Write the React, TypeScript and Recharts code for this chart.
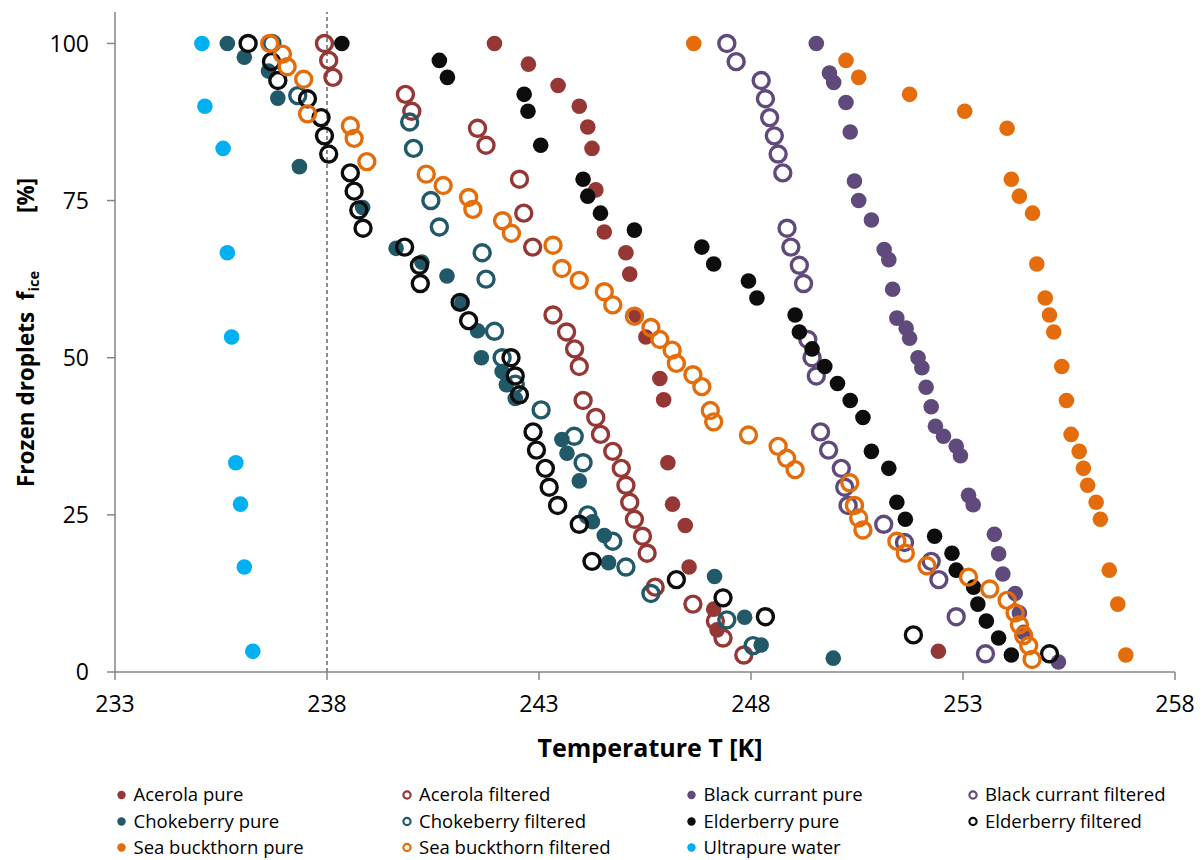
import React from "react";
import {
  ScatterChart,
  Scatter,
  XAxis,
  YAxis,
  ReferenceLine,
} from "recharts";

// Freezing curves: [temperature T in K, frozen fraction f_ice in %]
const acerolaPure: [number, number][] = [
  [241.95, 100], [242.75, 96.7], [243.45, 93.3], [243.95, 90.0], [244.15, 86.7],
  [244.25, 83.3], [244.34, 76.7], [244.54, 70.0], [245.05, 66.7], [245.14, 63.3],
  [245.29, 56.7], [245.52, 53.3], [245.85, 46.7], [245.94, 43.3], [246.04, 33.3],
  [246.15, 26.7], [246.45, 23.3], [246.54, 16.7], [247.12, 10.0], [247.2, 6.7],
  [252.42, 3.3],
];

const acerolaFiltered: [number, number][] = [
  [237.94, 100], [238.04, 97.3], [238.14, 94.6], [239.85, 91.9], [240.0, 89.2],
  [241.55, 86.5], [241.75, 83.8], [242.54, 78.4], [242.64, 73.0], [242.85, 67.6],
  [243.33, 56.8], [243.65, 54.1], [243.84, 51.4], [243.95, 48.6], [244.04, 43.2],
  [244.34, 40.5], [244.45, 37.8], [244.74, 35.1], [244.94, 32.4], [245.05, 29.7],
  [245.14, 27.0], [245.25, 24.3], [245.44, 21.6], [245.55, 18.9], [245.74, 13.5],
  [246.63, 10.8], [247.16, 8.1], [247.34, 5.4], [247.83, 2.7],
];

const blackCurrantPure: [number, number][] = [
  [249.54, 100], [249.85, 95.3], [249.95, 93.8], [250.24, 90.6], [250.34, 85.9],
  [250.44, 78.1], [250.54, 75.0], [250.84, 71.9], [251.14, 67.2], [251.25, 65.6],
  [251.34, 60.9], [251.44, 56.3], [251.66, 54.7], [251.74, 53.1], [251.94, 50.0],
  [252.03, 48.4], [252.13, 45.3], [252.25, 42.2], [252.35, 39.1], [252.54, 37.5],
  [252.84, 35.9], [252.94, 34.4], [253.13, 28.1], [253.24, 26.6], [253.74, 21.9],
  [253.84, 18.8], [253.94, 15.6], [254.23, 12.5], [254.33, 9.4], [254.43, 6.3],
  [255.25, 1.6],
];

const blackCurrantFiltered: [number, number][] = [
  [247.43, 100], [247.65, 97.1], [248.24, 94.1], [248.34, 91.2], [248.44, 88.2],
  [248.55, 85.3], [248.64, 82.4], [248.75, 79.4], [248.85, 70.6], [248.94, 67.6],
  [249.14, 64.7], [249.24, 61.8], [249.34, 52.9], [249.44, 50.0], [249.54, 47.1],
  [249.64, 38.2], [249.83, 35.3], [250.13, 32.4], [250.21, 29.4], [250.29, 26.5],
  [251.13, 23.5], [251.62, 20.6], [252.25, 17.6], [252.43, 14.7], [252.84, 8.8],
  [253.53, 2.9],
];

const chokeberryPure: [number, number][] = [
  [235.65, 100], [236.05, 97.8], [236.62, 95.6], [236.84, 91.3], [237.35, 80.4],
  [238.84, 73.9], [239.63, 67.4], [240.24, 65.2], [240.83, 63.0], [241.18, 58.7],
  [241.55, 54.3], [241.64, 50.0], [242.13, 47.8], [242.23, 45.7], [242.44, 43.5],
  [243.54, 37.0], [243.66, 34.8], [243.95, 30.4], [244.26, 23.9], [244.54, 21.7],
  [244.64, 17.4], [247.14, 15.2], [247.85, 8.7], [248.24, 4.3], [249.94, 2.2],
];

const chokeberryFiltered: [number, number][] = [
  [236.7, 100], [237.31, 91.7], [239.95, 87.5], [240.04, 83.3], [240.45, 75.0],
  [240.65, 70.8], [241.66, 66.7], [241.75, 62.5], [241.95, 54.2], [242.13, 50.0],
  [242.44, 45.8], [243.05, 41.7], [243.83, 37.5], [244.04, 33.3], [244.15, 25.0],
  [244.74, 20.8], [245.05, 16.7], [245.64, 12.5], [247.43, 8.3], [248.05, 4.2],
];

const elderberryPure: [number, number][] = [
  [238.35, 100], [240.65, 97.3], [240.84, 94.6], [242.65, 91.9], [242.74, 89.2],
  [243.04, 83.8], [244.04, 78.4], [244.15, 75.7], [244.45, 73.0], [245.25, 70.3],
  [246.84, 67.6], [247.12, 64.9], [247.94, 62.2], [248.14, 59.5], [249.04, 56.8],
  [249.14, 54.1], [249.44, 51.4], [249.74, 48.6], [250.04, 45.9], [250.34, 43.2],
  [250.64, 40.5], [250.84, 35.1], [251.25, 32.4], [251.44, 27.0], [251.64, 24.3],
  [252.33, 21.6], [252.74, 18.9], [252.84, 16.2], [253.25, 13.5], [253.35, 10.8],
  [253.55, 8.1], [253.84, 5.4], [254.14, 2.7],
];

const elderberryFiltered: [number, number][] = [
  [236.14, 100], [236.69, 97.1], [236.84, 94.1], [237.54, 91.2], [237.86, 88.2],
  [237.94, 85.3], [238.04, 82.4], [238.55, 79.4], [238.64, 76.5], [238.75, 73.5],
  [238.85, 70.6], [239.83, 67.6], [240.18, 64.7], [240.2, 61.8], [241.14, 58.8],
  [241.34, 55.9], [242.34, 50.0], [242.44, 47.1], [242.54, 44.1], [242.86, 38.2],
  [242.94, 35.3], [243.15, 32.4], [243.24, 29.4], [243.44, 26.5], [243.95, 23.5],
  [244.25, 17.6], [246.24, 14.7], [247.34, 11.8], [248.34, 8.8], [251.83, 5.9],
  [255.04, 2.9],
];

const seaBuckthornPure: [number, number][] = [
  [246.65, 100], [250.24, 97.3], [250.54, 94.6], [251.74, 91.9], [253.04, 89.2],
  [254.04, 86.5], [254.14, 78.4], [254.33, 75.7], [254.64, 73.0], [254.74, 64.9],
  [254.94, 59.5], [255.04, 56.8], [255.14, 54.1], [255.33, 48.6], [255.44, 43.2],
  [255.55, 37.8], [255.74, 35.1], [255.84, 32.4], [255.94, 29.7], [256.14, 27.0],
  [256.24, 24.3], [256.45, 16.2], [256.65, 10.8], [256.84, 2.7],
];

const seaBuckthornFiltered: [number, number][] = [
  [236.65, 100], [236.95, 98.3], [237.06, 96.3], [237.45, 94.3], [237.54, 88.8],
  [238.55, 86.9], [238.64, 84.9], [238.94, 81.2], [240.34, 79.2], [240.74, 77.4],
  [241.34, 75.5], [241.44, 73.6], [242.14, 71.8], [242.35, 69.8], [243.33, 67.9],
  [243.54, 64.2], [243.95, 62.3], [244.54, 60.5], [244.74, 58.4], [245.25, 56.6],
  [245.64, 54.8], [245.85, 52.9], [246.14, 51.2], [246.24, 49.1], [246.63, 47.3],
  [246.84, 45.4], [247.04, 41.6], [247.12, 39.8], [247.94, 37.7], [248.64, 35.9],
  [248.84, 34.0], [249.04, 32.2], [250.33, 30.1], [250.44, 26.5], [250.54, 24.5],
  [250.64, 22.6], [251.44, 20.8], [251.64, 18.9], [252.15, 16.9], [253.13, 15.1],
  [253.63, 13.2], [254.04, 11.4], [254.23, 9.4], [254.33, 7.5], [254.43, 5.8],
  [254.55, 4.2], [254.63, 2.0],
];

const ultrapureWater: [number, number][] = [
  [235.05, 100], [235.12, 90.0], [235.55, 83.3], [235.65, 66.7], [235.75, 53.3],
  [235.85, 33.3], [235.96, 26.7], [236.05, 16.7], [236.25, 3.3],
];

const xTicks = [233, 238, 243, 248, 253, 258];
const yTicks = [0, 25, 50, 75, 100];
const homogeneousLimit = 238;

type SeriesDef = {
  name: string;
  data: [number, number][];
  color: string;
  hollow: boolean;
};

// drawing order: later series sit on top
const series: SeriesDef[] = [
  { name: "Acerola pure", data: acerolaPure, color: "#953735", hollow: false },
  { name: "Acerola filtered", data: acerolaFiltered, color: "#953735", hollow: true },
  { name: "Black currant pure", data: blackCurrantPure, color: "#604A7B", hollow: false },
  { name: "Black currant filtered", data: blackCurrantFiltered, color: "#604A7B", hollow: true },
  { name: "Chokeberry pure", data: chokeberryPure, color: "#215968", hollow: false },
  { name: "Chokeberry filtered", data: chokeberryFiltered, color: "#215968", hollow: true },
  { name: "Elderberry pure", data: elderberryPure, color: "#0D0D0D", hollow: false },
  { name: "Elderberry filtered", data: elderberryFiltered, color: "#0D0D0D", hollow: true },
  { name: "Sea buckthorn pure", data: seaBuckthornPure, color: "#E46C0A", hollow: false },
  { name: "Sea buckthorn filtered", data: seaBuckthornFiltered, color: "#E46C0A", hollow: true },
  { name: "Ultrapure water", data: ultrapureWater, color: "#00B0F0", hollow: false },
];

const FONT = "'Open Sans', 'Noto Sans', sans-serif";
const AXIS_GREY = "#868686";

const makeShape = (color: string, hollow: boolean) => (props: any) => {
  const { cx, cy } = props;
  if (cx == null || cy == null) return <g />;
  return hollow ? (
    <circle cx={cx} cy={cy} r={8} fill="none" stroke={color} strokeWidth={3.4} />
  ) : (
    <circle cx={cx} cy={cy} r={7.8} fill={color} />
  );
};

// vertical axis title, read bottom to top
const YTitle = () => (
  <g fontFamily={FONT} fontWeight={700} fill="#000">
    <text
      transform="translate(34, 487) rotate(-90)"
      textAnchor="start"
      fontSize={22.5}
      style={{ whiteSpace: "pre" }}
    >
      <tspan>{"Frozen droplets  f"}</tspan>
      <tspan fontSize={14.5} dy={5}>ice</tspan>
    </text>
    <text
      transform="translate(34, 213) rotate(-90)"
      textAnchor="start"
      fontSize={22.5}
    >
      [%]
    </text>
  </g>
);

const XTitle = (props: any) => {
  const vb = props.viewBox || {};
  return (
    <text
      x={vb.x + vb.width / 2 + 5}
      y={757}
      textAnchor="middle"
      fontFamily={FONT}
      fontWeight={700}
      fontSize={25}
      fill="#000"
    >
      Temperature T [K]
    </text>
  );
};

const legendCols = [121.5, 407, 691.5, 973];
const legendRows = [795, 821.5, 847.5];

const LegendBlock = () => (
  <svg
    width={1203}
    height={860}
    style={{ position: "absolute", left: 0, top: 0, pointerEvents: "none" }}
  >
    {series.map((s, i) => {
      const cx = legendCols[i % 4];
      const cy = legendRows[Math.floor(i / 4)];
      return (
        <g key={s.name}>
          {s.hollow ? (
            <circle cx={cx} cy={cy} r={3.6} fill="none" stroke={s.color} strokeWidth={2.2} />
          ) : (
            <circle cx={cx} cy={cy} r={4.2} fill={s.color} />
          )}
          <text
            x={cx + 12}
            y={cy}
            dy="0.35em"
            fontFamily={FONT}
            fontSize={18.5}
            fill="#000"
          >
            {s.name}
          </text>
        </g>
      );
    })}
  </svg>
);

export default function App() {
  return (
    <div
      style={{
        position: "absolute",
        left: 0,
        top: 0,
        width: 1203,
        height: 860,
        background: "#fff",
      }}
    >
      <ScatterChart
        width={1203}
        height={860}
        margin={{ top: 12, right: 28, bottom: 0, left: 0 }}
      >
        <XAxis
          type="number"
          dataKey="x"
          domain={[233, 258]}
          ticks={xTicks}
          interval={0}
          height={188}
          tickSize={8}
          tickMargin={16}
          axisLine={{ stroke: AXIS_GREY, strokeWidth: 1.5 }}
          tickLine={{ stroke: AXIS_GREY, strokeWidth: 1.5 }}
          tick={{ fill: "#000", fontSize: 23, fontFamily: FONT }}
          allowDataOverflow
          label={<XTitle />}
        />
        <YAxis
          type="number"
          dataKey="y"
          domain={[0, 105]}
          ticks={yTicks}
          interval={0}
          width={115}
          tickSize={8}
          tickMargin={18}
          axisLine={{ stroke: AXIS_GREY, strokeWidth: 1.5 }}
          tickLine={{ stroke: AXIS_GREY, strokeWidth: 1.5 }}
          tick={{ fill: "#000", fontSize: 23, fontFamily: FONT }}
          allowDataOverflow
          label={<YTitle />}
        />
        <ReferenceLine
          x={homogeneousLimit}
          stroke="#404040"
          strokeWidth={1.2}
          strokeDasharray="4 3"
        />
        {series.map((s) => (
          <Scatter
            key={s.name}
            name={s.name}
            data={s.data.map(([x, y]) => ({ x, y }))}
            shape={makeShape(s.color, s.hollow)}
            isAnimationActive={false}
          />
        ))}
      </ScatterChart>
      <LegendBlock />
    </div>
  );
}
